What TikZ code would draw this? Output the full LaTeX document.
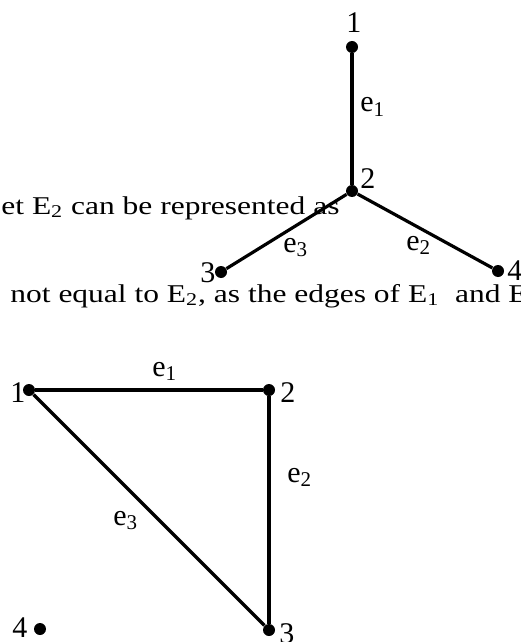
\documentclass[tikz,border=0pt]{standalone}
\usepackage{fontspec}
\setmainfont{Liberation Serif}
\newfontfamily\widefont[FakeStretch=1.23]{Liberation Serif}
\usetikzlibrary{positioning}
\tikzset{
  vtx/.style={circle,fill=black,inner sep=0pt,minimum size=6pt},
  edge/.style={line width=1.6pt},
  num/.style={inner sep=0pt,anchor=base west,font=\fontsize{15}{15}\selectfont},
  elbl/.style={inner sep=0pt,anchor=base west,font=\fontsize{15}{15}\selectfont},
  txt/.style={inner sep=0pt,anchor=base west,font=\widefont\fontsize{12.8}{13}\selectfont},
}
\begin{document}
\begin{tikzpicture}[x=0.5pt,y=-0.5pt]
  \useasboundingbox (0,0) rectangle (520,642);
  \clip (0,0) rectangle (520,642);
  % running text
  \node[txt] (line1) at (1,214) {et E\textsubscript{2} can be represented as};
  \node[txt] (line2) at (10,302) {not equal to E\textsubscript{2}, as the edges of E\textsubscript{1} \ and E};
  % first graph
  \node[vtx] (t1) at (352,47) {};
  \node[vtx] (t2) at (352,191) {};
  \node[vtx] (t3) at (221,272) {};
  \node[vtx] (t4) at (498,271) {};
  \draw[edge] (t1) -- (t2);
  \draw[edge] (t2) -- (t3);
  \draw[edge] (t2) -- (t4);
  \node[num] (t1n) at (346,33) {1};
  \node[num] (t2n) at (360,188) {2};
  \node[num] (t3n) at (200,282) {3};
  \node[num] (t4n) at (507,280) {4};
  \node[elbl] (te1) at (360,112) {e\textsubscript{1}};
  \node[elbl] (te3) at (283,252) {e\textsubscript{3}};
  \node[elbl] (te2) at (406,250) {e\textsubscript{2}};
  % second graph
  \node[vtx] (b1) at (29,390) {};
  \node[vtx] (b2) at (269,390) {};
  \node[vtx] (b3) at (269,630) {};
  \node[vtx] (b4) at (40,629) {};
  \draw[edge] (b1) -- (b2);
  \draw[edge] (b2) -- (b3);
  \draw[edge] (b1) -- (b3);
  \node[num] (b1n) at (10,402) {1};
  \node[num] (b2n) at (280,402) {2};
  \node[num] (b3n) at (279,643) {3};
  \node[num] (b4n) at (12,637) {4};
  \node[elbl] (be1) at (152,376) {e\textsubscript{1}};
  \node[elbl] (be2) at (287,482) {e\textsubscript{2}};
  \node[elbl] (be3) at (113,525) {e\textsubscript{3}};
\end{tikzpicture}
\end{document}
